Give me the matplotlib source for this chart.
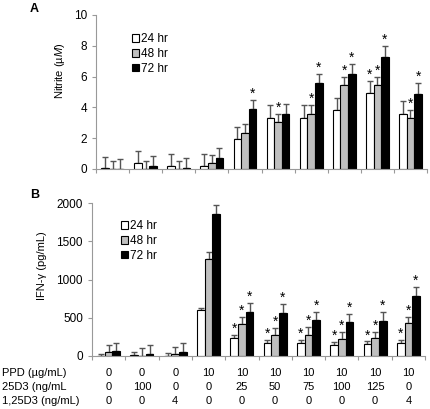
import matplotlib
matplotlib.use("Agg")
import matplotlib.pyplot as plt
import numpy as np

plt.rcParams['font.family'] = ['Liberation Sans', 'DejaVu Sans']
plt.rcParams['mathtext.fontset'] = 'custom'
plt.rcParams['mathtext.it'] = 'Liberation Sans:italic'
plt.rcParams['mathtext.rm'] = 'Liberation Sans'

series = ["24 hr", "48 hr", "72 hr"]
colors = ["white", "#bfbfbf", "black"]

# panel A: nitrite (uM), bar heights and upper error caps
no_24 = [0.05, 0.4, 0.2, 0.2, 1.95, 3.31, 3.31, 3.85, 4.93, 3.57]
no_24_cap = [0.8, 1.2, 1.0, 0.95, 2.7, 4.13, 4.13, 4.63, 5.73, 4.4]
no_48 = [0.0, 0.0, 0.0, 0.37, 2.34, 3.03, 3.6, 5.45, 5.45, 3.31]
no_48_cap = [0.55, 0.55, 0.55, 0.9, 2.92, 3.57, 4.15, 5.97, 5.97, 3.85]
no_72 = [0.0, 0.2, 0.05, 0.7, 3.9, 3.57, 5.56, 6.19, 7.3, 4.9]
no_72_cap = [0.62, 0.85, 0.7, 1.35, 4.5, 4.2, 6.17, 6.84, 8.0, 5.6]
# (group, series) pairs with a significance star
no_stars = [(4, 2), (5, 1), (6, 1), (6, 2), (7, 1), (7, 2),
            (8, 0), (8, 1), (8, 2), (9, 1), (9, 2)]

# panel B: IFN-gamma (pg/mL)
ifn_24 = [5, 10, 5, 600, 235, 165, 175, 145, 160, 175]
ifn_24_cap = [30, 48, 35, 630, 270, 205, 205, 185, 190, 205]
ifn_48 = [52, 5, 30, 1270, 415, 280, 280, 225, 230, 425]
ifn_48_cap = [150, 100, 120, 1365, 510, 370, 380, 315, 315, 515]
ifn_72 = [65, 22, 52, 1860, 575, 560, 465, 445, 455, 780]
ifn_72_cap = [173, 140, 165, 1980, 690, 685, 580, 555, 580, 900]
ifn_stars = [(g, s) for g in range(4, 10) for s in range(3)]

# treatment table
row_names = ["PPD (\u00b5g/mL)", "25D3 (ng/mL", "1,25D3 (ng/mL)"]
ppd = ["0", "0", "0", "10", "10", "10", "10", "10", "10", "10"]
d25 = ["0", "100", "0", "0", "25", "50", "75", "100", "125", "0"]
d125 = ["0", "0", "4", "0", "0", "0", "0", "0", "0", "4"]

W, H = 430, 409
fig = plt.figure(figsize=(W / 100, H / 100), dpi=100)


def px_axes(x0, y0, x1, y1):
    return fig.add_axes([x0 / W, 1 - y1 / H, (x1 - x0) / W, (y1 - y0) / H])


def panel(ax, means, caps, stars, ymax, ystep):
    x = np.arange(10)
    bw = 0.23
    for i, (m, c) in enumerate(zip(means, caps)):
        xs = x + (i - 1) * bw
        err = np.array(c) - np.array(m)
        ax.bar(xs, m, bw, color=colors[i], edgecolor="black", lw=0.8,
               label=series[i], zorder=2)
        ax.errorbar(xs, m, yerr=[np.zeros(10), err], fmt="none",
                    ecolor="#555555", elinewidth=1, capsize=2.5,
                    capthick=1, zorder=1)
    for g, s in stars:
        ax.annotate("*", (g + (s - 1) * bw, caps[s][g]), xytext=(0, 1.5),
                    textcoords="offset points", ha="center", va="baseline",
                    fontsize=10)
    ax.set_xlim(-0.5, 9.5)
    ax.set_ylim(0, ymax)
    ax.set_yticks(np.arange(0, ymax + 1e-9, ystep))
    ax.set_xticks(np.arange(-0.5, 10, 1))
    ax.set_xticklabels([])
    for sp in ["top", "right"]:
        ax.spines[sp].set_visible(False)
    for sp in ["left", "bottom"]:
        ax.spines[sp].set_color("#999999")
    ax.tick_params(axis="both", colors="#999999", labelcolor="black",
                   length=3, labelsize=8.5)


axA = px_axes(96, 15, 427, 169)
panel(axA, [no_24, no_48, no_72], [no_24_cap, no_48_cap, no_72_cap],
      no_stars, 10, 2)
axA.set_ylabel("Nitrite (\u00b5$\\mathit{M}$)", fontsize=8)
axA.yaxis.set_label_coords(-29 / 331, 0.64)
axA.legend(loc="upper left", bbox_to_anchor=(132 / W, 1 - 33 / H),
           bbox_transform=fig.transFigure, frameon=False, fontsize=8.5,
           handlelength=0.6, handleheight=0.6, handletextpad=0.2,
           labelspacing=0.25, borderpad=0, borderaxespad=0)

axB = px_axes(92, 203, 425, 356)
panel(axB, [ifn_24, ifn_48, ifn_72], [ifn_24_cap, ifn_48_cap, ifn_72_cap],
      ifn_stars, 2000, 500)
axB.set_ylabel("IFN-\u03b3 (pg/mL)", fontsize=8)
axB.yaxis.set_label_coords(-45 / 333, 0.59)
axB.legend(loc="upper left", bbox_to_anchor=(121 / W, 1 - 220 / H),
           bbox_transform=fig.transFigure, frameon=False, fontsize=8.5,
           handlelength=0.6, handleheight=0.6, handletextpad=0.2,
           labelspacing=0.25, borderpad=0, borderaxespad=0)

fig.text(30 / W, 1 - 9 / H, "A", fontsize=9, fontweight="bold", va="center")
fig.text(30 / W, 1 - 195 / H, "B", fontsize=9, fontweight="bold", va="center")

# table below panel B, aligned to its groups
for r, (name, vals) in enumerate(zip(row_names, [ppd, d25, d125])):
    y = 1 - (373 + 14 * r) / H
    fig.text(2 / W, y, name, fontsize=8, va="center")
    for g, v in enumerate(vals):
        xf = axB.transData.transform((g, 0))[0] / fig.bbox.width
        fig.text(xf, y, v, fontsize=8, va="center", ha="center")

fig.savefig("out.png", dpi=100)
